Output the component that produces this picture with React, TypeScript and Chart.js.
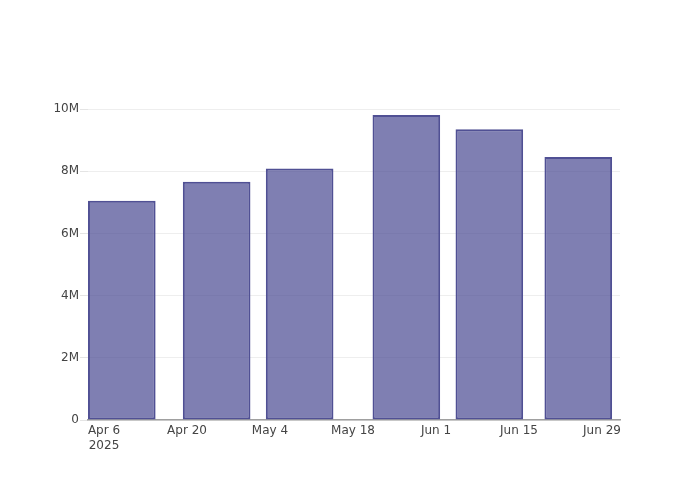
import React, { useEffect, useRef } from "react";
import { Chart, registerables } from "chart.js";

Chart.register(...registerables);

const barDates = ["2025-04-09", "2025-04-25", "2025-05-09", "2025-05-27", "2025-06-10", "2025-06-25"];
const barValues = [7.05e6, 7.66e6, 8.09e6, 9.81e6, 9.35e6, 8.46e6];
const xTickDates = ["2025-04-06", "2025-04-20", "2025-05-04", "2025-05-18", "2025-06-01", "2025-06-15", "2025-06-29"];
const xTickLabels: (string | string[])[] = [["Apr 6", "2025"], "Apr 20", "May 4", "May 18", "Jun 1", "Jun 15", "Jun 29"];
const yTickValues = [0, 2e6, 4e6, 6e6, 8e6, 10e6];
const yTickLabels = ["0", "2M", "4M", "6M", "8M", "10M"];

const day = (d: string) => Date.parse(d + "T00:00:00Z") / 86400000;

export default function App() {
  const ref = useRef<HTMLCanvasElement>(null);
  useEffect(() => {
    if (!ref.current) return;
    const xTickDays = xTickDates.map(day);
    const chart = new Chart(ref.current, {
      type: "bar",
      data: {
        datasets: [
          {
            data: barDates.map((d, i) => ({ x: day(d), y: barValues[i] })),
            backgroundColor: "rgba(64,64,140,0.67)",
            borderColor: "rgb(80,80,148)",
            borderWidth: 2,
            borderSkipped: false,
            barPercentage: 0.815,
            categoryPercentage: 1,
          },
        ],
      },
      options: {
        animation: false,
        responsive: false,
        layout: { padding: { left: 0, top: 100, right: 80, bottom: 0 } },
        plugins: { legend: { display: false }, tooltip: { enabled: false } },
        scales: {
          x: {
            type: "linear",
            offset: false,
            min: day(xTickDates[0]) - 2.7,
            max: day(xTickDates[6]) + 3.04,
            afterBuildTicks: (scale: any) => {
              scale.ticks = xTickDays.map((v) => ({ value: v }));
            },
            afterFit: (scale: any) => {
              scale.height = 80;
            },
            grid: { display: false, drawTicks: false, offset: false },
            border: { display: true, color: "#a0a0a0", width: 1.5 },
            ticks: {
              autoSkip: false,
              maxRotation: 0,
              padding: 4,
              color: "#444",
              font: { family: "DejaVu Sans", size: 12 },
              callback: (_v: any, i: number) => xTickLabels[i],
            },
          },
          y: {
            min: 0,
            max: 10.29e6,
            afterBuildTicks: (scale: any) => {
              scale.ticks = yTickValues.map((v) => ({ value: v }));
            },
            afterFit: (scale: any) => {
              scale.width = 88;
            },
            grid: { color: "#eeeeee", tickColor: "#e4e4e4", tickLength: 8, lineWidth: 1 },
            border: { display: false },
            ticks: {
              padding: 1,
              color: "#444",
              font: { family: "DejaVu Sans", size: 12 },
              callback: (_v: any, i: number) => yTickLabels[i],
            },
          },
        },
      },
    } as any);
    return () => chart.destroy();
  }, []);
  return (
    <div style={{ position: "absolute", left: 0, top: 0, width: 700, height: 500, background: "#fff" }}>
      <canvas ref={ref} width={700} height={500} style={{ width: 700, height: 500 }} />
    </div>
  );
}
